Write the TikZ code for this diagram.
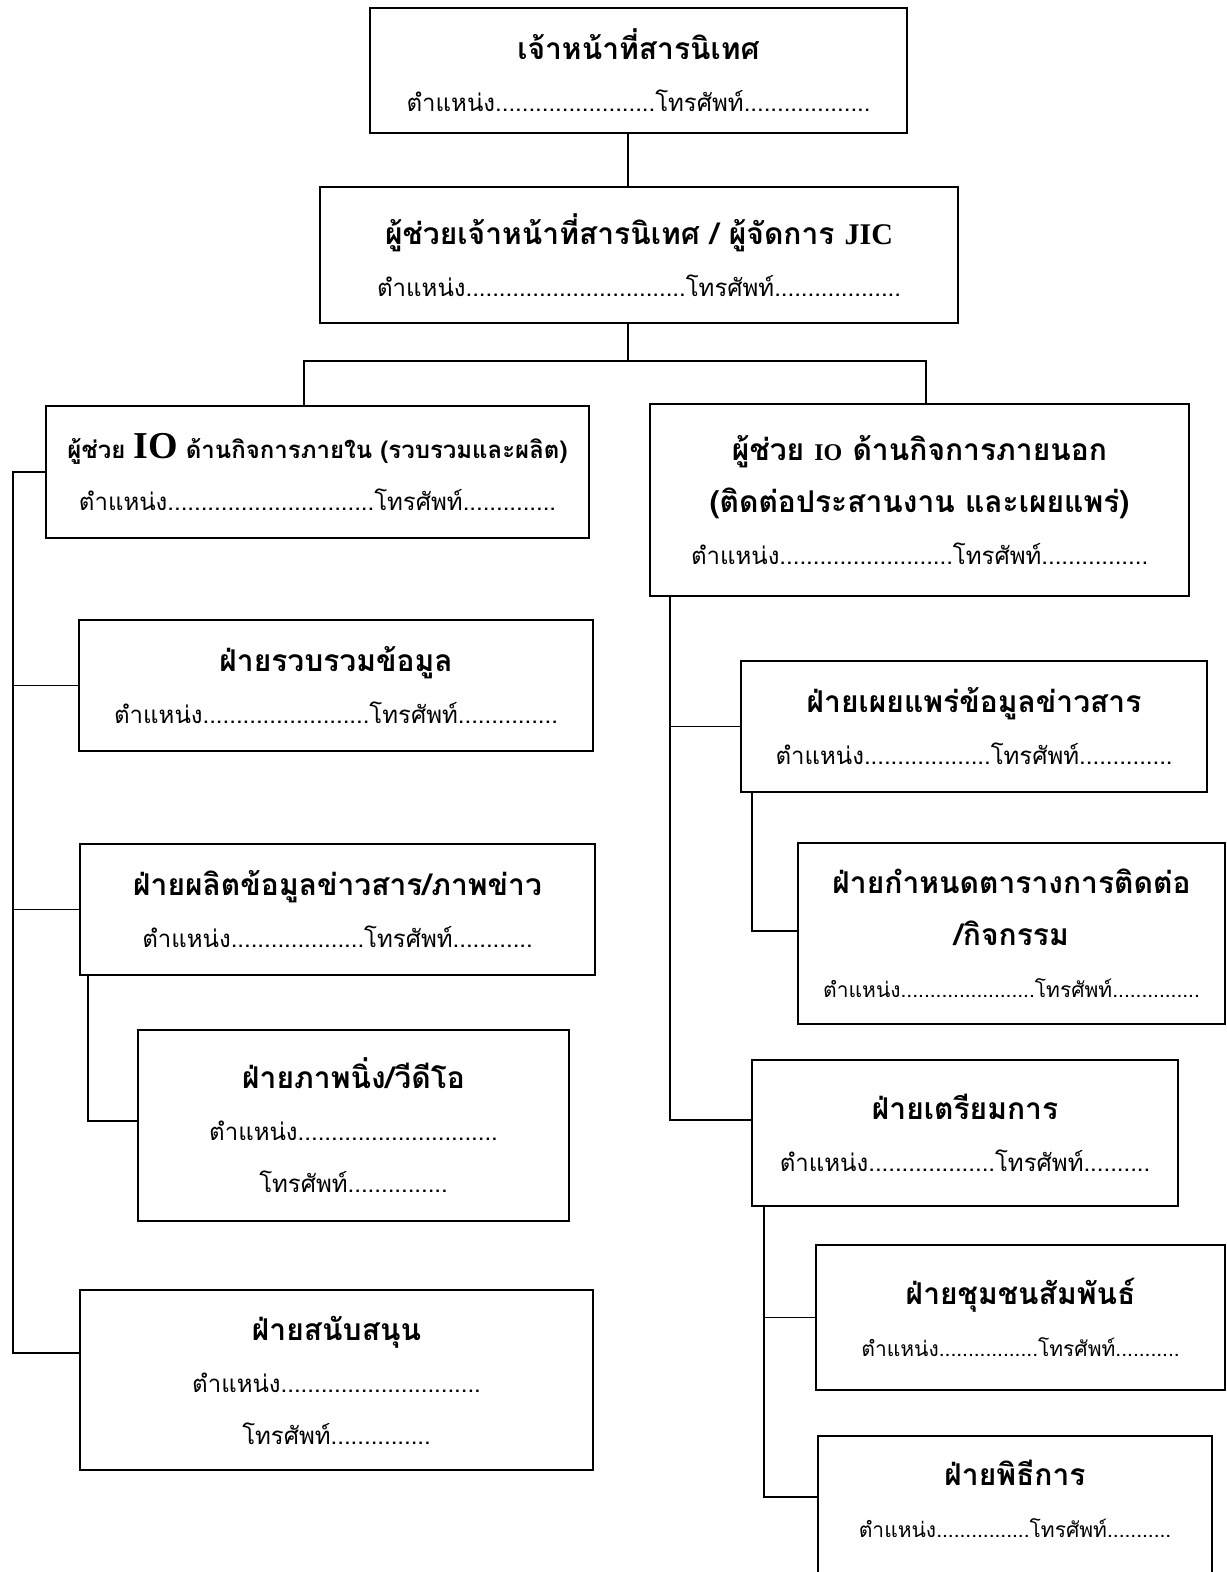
\documentclass[tikz,border=0pt]{standalone}
\usepackage{fontspec}
\newfontfamily\thai[Script=Thai]{Loma}
\newfontfamily\latin{Liberation Serif}
\usetikzlibrary{positioning}
\tikzset{unit/.style={draw, line width=0.9pt, align=center, inner sep=0pt, font=\thai\fontsize{12}{26}\selectfont}}
\tikzset{unitsm/.style={unit, font=\thai\fontsize{10.5}{26}\selectfont}}
\tikzset{link/.style={draw, line width=0.9pt}}
\newcommand{\hd}[1]{{\bfseries\fontsize{15}{18}\selectfont #1}}

\begin{document}
\begin{tikzpicture}[x=0.5pt, y=-0.5pt]
\useasboundingbox (0,0) rectangle (1226,1572);
% head and assistant
\node[unit, minimum width=268.5pt, minimum height=62.5pt] (chief) at (638.5,70.5)
  {\hd{เจ้าหน้าที่สารนิเทศ}\\ ตำแหน่ง........................โทรศัพท์...................};
\node[unit, minimum width=319pt, minimum height=68pt] (asst) at (639,255)
  {\hd{ผู้ช่วยเจ้าหน้าที่สารนิเทศ / ผู้จัดการ {\latin JIC}}\\ ตำแหน่ง.................................โทรศัพท์...................};
% internal side
\node[unit, minimum width=271.5pt, minimum height=66pt] (inIO) at (317.5,472)
  {{\bfseries\fontsize{12}{18}\selectfont ผู้ช่วย {\latin\fontsize{19}{18}\selectfont IO} ด้านกิจการภายใน (รวบรวมและผลิต)}\\ ตำแหน่ง...............................โทรศัพท์..............};
\node[unit, minimum width=257pt, minimum height=65.5pt] (collect) at (336,685.5)
  {\hd{ฝ่ายรวบรวมข้อมูล}\\ ตำแหน่ง.........................โทรศัพท์...............};
\node[unit, minimum width=257.5pt, minimum height=65.5pt] (produce) at (337.5,909.5)
  {\hd{ฝ่ายผลิตข้อมูลข่าวสาร/ภาพข่าว}\\ ตำแหน่ง....................โทรศัพท์............};
\node[unit, minimum width=215.5pt, minimum height=95.5pt] (photo) at (353.5,1125.5)
  {\hd{ฝ่ายภาพนิ่ง/วีดีโอ}\\ ตำแหน่ง..............................\\ โทรศัพท์...............};
\node[unit, minimum width=256.5pt, minimum height=90pt] (support) at (336.5,1380)
  {\hd{ฝ่ายสนับสนุน}\\ ตำแหน่ง..............................\\ โทรศัพท์...............};
% external side
\node[unit, minimum width=269.5pt, minimum height=96pt] (outIO) at (919.5,500)
  {\hd{ผู้ช่วย {\latin\fontsize{12}{18}\selectfont IO} ด้านกิจการภายนอก}\\ \hd{(ติดต่อประสานงาน และเผยแพร่)}\\ ตำแหน่ง..........................โทรศัพท์................};
\node[unit, minimum width=233pt, minimum height=65.5pt] (publish) at (974,726.5)
  {\hd{ฝ่ายเผยแพร่ข้อมูลข่าวสาร}\\ ตำแหน่ง...................โทรศัพท์..............};
\node[unitsm, minimum width=213.5pt, minimum height=90.5pt] (sched) at (1011.5,933.5)
  {\hd{ฝ่ายกำหนดตารางการติดต่อ}\\ \hd{/กิจกรรม}\\ ตำแหน่ง.......................โทรศัพท์...............};
\node[unit, minimum width=213pt, minimum height=73pt] (prep) at (965,1133)
  {\hd{ฝ่ายเตรียมการ}\\ ตำแหน่ง...................โทรศัพท์..........};
\node[unitsm, minimum width=204.5pt, minimum height=72.5pt] (commun) at (1020.5,1317.5)
  {\hd{ฝ่ายชุมชนสัมพันธ์}\\ ตำแหน่ง.................โทรศัพท์...........};
\node[unit, minimum width=197pt, minimum height=82pt] (cerem) at (1015,1518) {};
\node[unitsm, draw=none] (ceremtxt) at ([yshift=-32pt]cerem.north)
  {\hd{ฝ่ายพิธีการ}\\ ตำแหน่ง................โทรศัพท์...........};
% connectors
\coordinate (trunk) at (628,361);
\coordinate (brL) at (304,361);
\coordinate (brR) at (926,361);
\draw[link] (chief.south -| trunk) -- (asst.north -| trunk);
\draw[link] (asst.south -| trunk) -- (trunk);
\draw[link] (inIO.north -| brL) -- (brL) -- (brR) -- (outIO.north -| brR);
\coordinate (lbot) at (13,1353);
\draw[link] (inIO.west) -| (lbot) -- (lbot -| support.west);
\draw[link] (collect.west) -- (collect.west -| lbot);
\draw[link] (produce.west) -- (produce.west -| lbot);
\coordinate (pk) at (88,1121);
\draw[link] (produce.south -| pk) -- (pk) -- (pk -| photo.west);
\coordinate (rk) at (670,1120);
\draw[link] (outIO.south -| rk) -- (rk) -- (rk -| prep.west);
\draw[link] (publish.west) -- (publish.west -| rk);
\coordinate (sk) at (752,931);
\draw[link] (publish.south -| sk) -- (sk) -- (sk -| sched.west);
\coordinate (ck) at (764,1497);
\draw[link] (prep.south -| ck) -- (ck) -- (ck -| cerem.west);
\draw[link] (commun.west) -- (commun.west -| ck);
\end{tikzpicture}
\end{document}
